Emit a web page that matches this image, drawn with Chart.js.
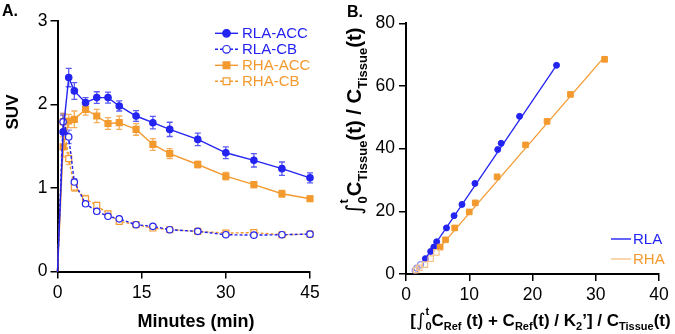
<!DOCTYPE html>
<html>
<head>
<meta charset="utf-8">
<script src="https://cdn.jsdelivr.net/npm/chart.js@4.4.1/dist/chart.umd.min.js"></script>
<style>
  html, body { margin: 0; padding: 0; background: #fff; }
  #wrap { position: relative; width: 675px; height: 334px; }
  canvas { position: absolute; top: 0; }
  #chart-a { left: 0; }
  #chart-b { left: 340px; }
</style>
</head>
<body>
<div id="wrap">
  <canvas id="chart-a" width="340" height="334"></canvas>
  <canvas id="chart-b" width="335" height="334"></canvas>
</div>
<script>
// Panel A: SUV time-activity curves
const times = [0, 1, 2, 3, 5, 7, 9, 11, 14, 17, 20, 25, 30, 35, 40, 45];
const rlaAcc = [0, 1.67, 2.32, 2.16, 2.02, 2.08, 2.08, 1.98, 1.86, 1.78, 1.70, 1.58, 1.42, 1.33, 1.23, 1.12];
const rlaAccErr = [0, 0.2, 0.11, 0.1, 0.06, 0.07, 0.065, 0.06, 0.065, 0.075, 0.085, 0.075, 0.07, 0.08, 0.08, 0.06];
const rlaCb = [0, 1.79, 1.61, 1.07, 0.81, 0.72, 0.66, 0.63, 0.56, 0.54, 0.50, 0.48, 0.44, 0.435, 0.44, 0.447];
const rlaCbErr = [0, 0.1, 0.08, 0.04, 0.03, 0.03, 0.02, 0.02, 0.02, 0.02, 0.01, 0.01, 0.01, 0.01, 0.01, 0.01];
const rhaAcc = [0, 1.49, 1.80, 1.82, 1.94, 1.86, 1.77, 1.78, 1.70, 1.52, 1.41, 1.28, 1.14, 1.04, 0.93, 0.87];
const rhaAccErr = [0, 0.12, 0.08, 0.1, 0.07, 0.08, 0.07, 0.08, 0.07, 0.07, 0.06, 0.04, 0.045, 0.035, 0.04, 0.03];
const rhaCb = [0, 1.79, 1.35, 1.01, 0.87, 0.79, 0.69, 0.60, 0.56, 0.52, 0.50, 0.48, 0.46, 0.465, 0.44, 0.447];
const rhaCbErr = [0, 0.1, 0.07, 0.05, 0.04, 0.04, 0.03, 0.03, 0.02, 0.02, 0.01, 0.01, 0.02, 0.02, 0.01, 0.02];
const xTicksA = [0, 15, 30, 45];
const yTicksA = [0, 1, 2, 3];

// Panel B: Logan plot
const rlaX = [3.06, 3.9, 4.4, 4.85, 6.4, 7.6, 8.85, 10.9, 14.5, 15.05, 17.95, 23.8];
const rlaY = [4.9, 7.2, 8.6, 10.3, 14.7, 18.6, 22.2, 28.9, 39.7, 41.7, 50.3, 66.6];
const rlaEarlyX = [1.45, 1.7, 2.3];
const rlaEarlyY = [1.2, 1.9, 3.0];
const rhaX = [5.4, 6.25, 7.7, 10.0, 10.95, 14.4, 18.9, 22.3, 26.0, 31.4];
const rhaY = [8.6, 10.9, 14.7, 19.8, 22.7, 31.0, 41.2, 48.7, 57.3, 68.5];
const rhaEarlyX = [1.6, 2.1, 3.0, 3.9, 4.8];
const rhaEarlyY = [1.3, 2.0, 3.0, 4.9, 6.9];
const rlaFitX = [2.9, 23.9];
const rlaFitY = [4.4, 66.9];
const rhaFitX = [5.0, 31.5];
const rhaFitY = [7.7, 69.6];
const xTicksB = [0, 10, 20, 30, 40];
const yTicksB = [0, 20, 40, 60, 80];

const BLUE = '#2323f2';
const BLUE_LIGHT = '#8c8cf4';
const ORANGE = '#f39a2f';
const ORANGE_LIGHT = '#f8c48c';
const FAMILY = '"Liberation Sans", Arial, "DejaVu Sans", sans-serif';

Chart.defaults.font.family = FAMILY;
Chart.defaults.color = '#000';

const pts = (xs, ys) => xs.map((x, i) => ({ x, y: ys[i] }));

// Error bars drawn under the markers
const errorBars = {
  id: 'errorBars',
  beforeDatasetsDraw(chart) {
    const { ctx, scales: { x, y } } = chart;
    chart.data.datasets.forEach(ds => {
      if (!ds.errors) return;
      ctx.save();
      ctx.strokeStyle = ds.errorColor;
      ctx.lineWidth = 1.3;
      ds.data.forEach((p, i) => {
        const e = ds.errors[i];
        if (!e) return;
        const px = x.getPixelForValue(p.x);
        const top = y.getPixelForValue(p.y + e);
        const bot = y.getPixelForValue(p.y - e);
        ctx.beginPath();
        ctx.moveTo(px, top); ctx.lineTo(px, bot);
        ctx.moveTo(px - 3, top); ctx.lineTo(px + 3, top);
        ctx.moveTo(px - 3, bot); ctx.lineTo(px + 3, bot);
        ctx.stroke();
      });
      ctx.restore();
    });
  }
};

// Legend inside the plot, line + marker + coloured label
const panelLegend = {
  id: 'panelLegend',
  afterDraw(chart, args, opts) {
    const { ctx } = chart;
    let y = opts.y;
    chart.data.datasets.forEach(ds => {
      if (!ds.label) return;
      ctx.save();
      ctx.strokeStyle = ds.legendLineColor || ds.borderColor;
      ctx.lineWidth = 1.4;
      ctx.setLineDash(ds.borderDash || []);
      ctx.beginPath();
      ctx.moveTo(opts.x, y); ctx.lineTo(opts.x + opts.len, y);
      ctx.stroke();
      ctx.setLineDash([]);
      if (ds.legendRadius) {
        ctx.fillStyle = ds.pointBackgroundColor;
        ctx.strokeStyle = ds.pointBorderColor;
        ctx.lineWidth = ds.pointBorderWidth;
        Chart.helpers.drawPoint(ctx, { pointStyle: ds.pointStyle, radius: ds.legendRadius, borderWidth: ds.pointBorderWidth, rotation: 0 }, opts.x + opts.len / 2, y);
      }
      ctx.fillStyle = ds.legendTextColor || ds.borderColor;
      ctx.font = opts.font;
      ctx.textBaseline = 'middle';
      ctx.fillText(ds.label, opts.x + opts.len + opts.gap, y + 1);
      ctx.restore();
      y += opts.dy;
    });
  }
};

// Bold text with sub/superscripts, centred at (cx, baseline cy)
function drawRich(ctx, parts, cx, cy, rotate, size) {
  const fontFor = k => k === 'i' ? `${Math.round(size * 1.05)}px "DejaVu Sans", sans-serif`
    : k === 'n' ? `bold ${size}px ${FAMILY}`
    : `bold ${Math.round(size * 0.62)}px ${FAMILY}`;
  const shift = k => k === 'b' ? size * 0.28 : k === 'p' ? -size * 0.62 : 0;
  ctx.save();
  const widths = parts.map(p => { ctx.font = fontFor(p.k); return ctx.measureText(p.t).width; });
  let total = 0, pending = 0;
  parts.forEach((p, i) => {
    if (p.stack) pending = Math.max(pending, widths[i]);
    else { total += Math.max(pending, widths[i]); pending = 0; }
  });
  ctx.translate(cx, cy);
  if (rotate) ctx.rotate(-Math.PI / 2);
  ctx.fillStyle = '#000';
  ctx.textBaseline = 'alphabetic';
  let xx = -total / 2;
  pending = 0;
  parts.forEach((p, i) => {
    ctx.font = fontFor(p.k);
    ctx.fillText(p.t, xx, shift(p.k));
    if (p.stack) pending = Math.max(pending, widths[i]);
    else { xx += Math.max(pending, widths[i]); pending = 0; }
  });
  ctx.restore();
}

const titles = {
  id: 'titles',
  afterDraw(chart, args, opts) {
    const { ctx } = chart;
    (opts.items || []).forEach(it => drawRich(ctx, it.parts, it.x, it.y, it.rotate, it.size));
  }
};

function axis(min, max, tickVals, fixed, isX, pad, tickLen) {
  return {
    type: 'linear', min, max,
    afterBuildTicks: s => { s.ticks = tickVals.map(v => ({ value: v })); },
    afterFit: s => { if (isX) s.height = fixed; else s.width = fixed; },
    ticks: { color: '#000', font: { size: 17.5 }, padding: pad, maxRotation: 0 },
    grid: { drawOnChartArea: false, color: '#000', lineWidth: 1.5, tickLength: tickLen, tickWidth: 1.5 },
    border: { color: '#000', width: 2 }
  };
}

const common = {
  responsive: false,
  animation: false,
  events: [],
  plugins: { legend: { display: false }, tooltip: { enabled: false } }
};

// ---------- Panel A ----------
const hideFirst = r => ctx => ctx.dataIndex === 0 ? 0 : r;
function tacSet(label, ys, errs, color, errColor, style, open, dash) {
  return {
    label,
    data: pts(times, ys),
    errors: errs,
    errorColor: errColor,
    showLine: true,
    clip: false,
    borderColor: color,
    borderWidth: 1.4,
    borderDash: dash,
    pointStyle: style,
    pointRadius: hideFirst(style === 'rect' ? 4.2 : 3.2),
    legendRadius: style === 'rect' ? 4.8 : 3.8,
    pointBackgroundColor: open ? '#fff' : color,
    pointBorderColor: color,
    pointBorderWidth: 1.2
  };
}

new Chart(document.getElementById('chart-a'), {
  type: 'scatter',
  data: {
    datasets: [
      tacSet('RLA-ACC', rlaAcc, rlaAccErr, BLUE, 'rgba(35,35,242,0.75)', 'circle', false, []),
      tacSet('RLA-CB', rlaCb, rlaCbErr, BLUE, 'rgba(35,35,242,0.6)', 'circle', true, [3, 2]),
      tacSet('RHA-ACC', rhaAcc, rhaAccErr, ORANGE, 'rgba(243,154,47,0.8)', 'rect', false, []),
      tacSet('RHA-CB', rhaCb, rhaCbErr, ORANGE, 'rgba(243,154,47,0.65)', 'rect', true, [3, 2])
    ]
  },
  options: {
    ...common,
    layout: { padding: { top: 20.7, right: 30, left: 0, bottom: 0 } },
    scales: {
      x: axis(0, 45, xTicksA, 62.5, true, 4, 7),
      y: axis(0, 3, yTicksA, 57.5, false, 3, 7)
    },
    plugins: {
      ...common.plugins,
      panelLegend: { x: 215, y: 33.3, dy: 16, len: 23, gap: 4, font: `15px ${FAMILY}` },
      titles: {
        items: [
          { parts: [{ t: 'A.', k: 'n' }], x: 10, y: 16, size: 16 },
          { parts: [{ t: 'SUV', k: 'n' }], x: 17.5, y: 112, rotate: true, size: 17 },
          { parts: [{ t: 'Minutes (min)', k: 'n' }], x: 196, y: 326.5, size: 18 }
        ]
      }
    }
  },
  plugins: [errorBars, panelLegend, titles]
});

// ---------- Panel B ----------
new Chart(document.getElementById('chart-b'), {
  type: 'scatter',
  data: {
    datasets: [
      { label: 'RLA', data: pts(rlaFitX, rlaFitY), showLine: true, pointRadius: 0, borderColor: BLUE, borderWidth: 1.3, clip: false },
      { label: 'RHA', data: pts(rhaFitX, rhaFitY), showLine: true, pointRadius: 0, borderColor: ORANGE, legendLineColor: ORANGE_LIGHT, legendTextColor: ORANGE, borderWidth: 1.3, clip: false },
      { data: pts(rhaEarlyX, rhaEarlyY), pointStyle: 'rect', pointRadius: 3.8, pointBackgroundColor: 'rgba(255,255,255,0)', pointBorderColor: ORANGE_LIGHT, pointBorderWidth: 1.2, clip: false },
      { data: pts(rlaEarlyX, rlaEarlyY), pointStyle: 'circle', pointRadius: 3, pointBackgroundColor: 'rgba(255,255,255,0)', pointBorderColor: BLUE_LIGHT, pointBorderWidth: 1.2, clip: false },
      { data: pts(rhaX, rhaY), pointStyle: 'rect', pointRadius: 4, pointBackgroundColor: ORANGE, pointBorderColor: ORANGE, pointBorderWidth: 1, clip: false },
      { data: pts(rlaX, rlaY), pointStyle: 'circle', pointRadius: 3, pointBackgroundColor: BLUE, pointBorderColor: BLUE, pointBorderWidth: 1, clip: false }
    ]
  },
  options: {
    ...common,
    layout: { padding: { top: 23.3, right: 16, left: 0, bottom: 0 } },
    scales: {
      x: axis(0, 40, xTicksB, 60, true, 4, 7),
      y: axis(0, 80, yTicksB, 66, false, 4, 7)
    },
    plugins: {
      ...common.plugins,
      panelLegend: { x: 271, y: 239, dy: 20, len: 20, gap: 2, font: `15px ${FAMILY}` },
      titles: {
        items: [
          { parts: [{ t: 'B.', k: 'n' }], x: 15, y: 17, size: 16 },
          { parts: [
              { t: '∫', k: 'i' }, { t: 't', k: 'p', stack: true }, { t: '0', k: 'b' },
              { t: 'C', k: 'n' }, { t: 'Tissue', k: 'b' }, { t: '(t) / C', k: 'n' },
              { t: 'Tissue', k: 'b' }, { t: '(t)', k: 'n' }
            ], x: 21, y: 121, rotate: true, size: 20.3 },
          { parts: [
              { t: '[', k: 'n' }, { t: '∫', k: 'i' }, { t: 't', k: 'p', stack: true }, { t: '0', k: 'b' },
              { t: 'C', k: 'n' }, { t: 'Ref', k: 'b' }, { t: ' (t) + C', k: 'n' }, { t: 'Ref', k: 'b' },
              { t: '(t) / K', k: 'n' }, { t: '2', k: 'b' }, { t: '’] / C', k: 'n' },
              { t: 'Tissue', k: 'b' }, { t: '(t)', k: 'n' }
            ], x: 200.5, y: 325.5, size: 17 }
        ]
      }
    }
  },
  plugins: [errorBars, panelLegend, titles]
});
</script>
</body>
</html>
